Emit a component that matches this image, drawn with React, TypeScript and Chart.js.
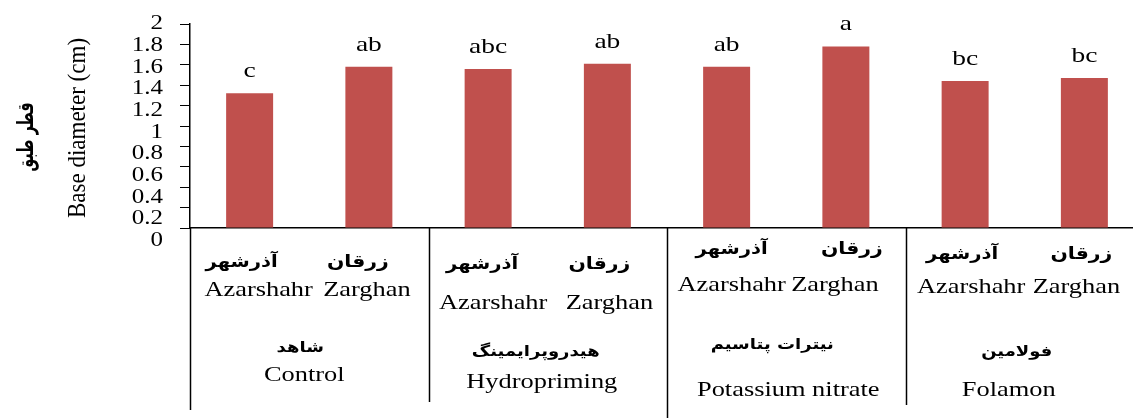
import React, { useEffect, useRef } from 'react';
import { Chart, registerables } from 'chart.js';

Chart.register(...registerables);

// ---- data ----
const cultivarEn = ['Azarshahr', 'Zarghan'];
const cultivarFa = ['آذرشهر', 'زرقان'];
const treatmentEn = ['Control', 'Hydropriming', 'Potassium nitrate', 'Folamon'];
const treatmentFa = ['شاهد', 'هیدروپرایمینگ', 'نیترات پتاسیم', 'فولامین'];
const categories = treatmentEn.flatMap((t) => cultivarEn.map((c) => `${t} - ${c}`));
const values = [1.32, 1.58, 1.56, 1.61, 1.58, 1.78, 1.44, 1.47];
const letters = ['c', 'ab', 'abc', 'ab', 'ab', 'a', 'bc', 'bc'];
const yMin = 0;
const yMax = 2;
const yStep = 0.2;
const titleEn = 'Base diameter (cm)';
const titleFa = 'قطر طبق';

// ---- layout (text placement of the category table) ----
const rowY = [
  [263, 290, 348, 375],
  [265, 303, 352, 382],
  [250, 285, 345, 390],
  [255, 287, 352, 390],
];
const cultDx = [
  [-8, -11, 9, -2],
  [-6, -8, 5, 2],
  [5, 6, 5, -11],
  [-3, -3, 6, -8],
];
const groupDx = [
  [-9, -5],
  [-12, -6],
  [-14, 2],
  [-8, -16],
];
const lineBottoms = [410, 402, 418, 405];

const SERIF = '"Liberation Serif", "Times New Roman", serif';
const FA = '"DejaVu Sans", sans-serif';

function drawText(
  ctx: CanvasRenderingContext2D,
  text: string,
  x: number,
  y: number,
  font: string,
  sx = 1.2,
  align: CanvasTextAlign = 'center',
  baseline: CanvasTextBaseline = 'middle'
) {
  ctx.save();
  ctx.translate(x, y);
  ctx.scale(sx, 1);
  ctx.font = font;
  ctx.fillStyle = '#000';
  ctx.textAlign = align;
  ctx.textBaseline = baseline;
  ctx.fillText(text, 0, 0);
  ctx.restore();
}

const decorPlugin = {
  id: 'decor',
  afterDraw(chart: any) {
    const ctx: CanvasRenderingContext2D = chart.ctx;
    const xs = chart.scales.x;
    const ys = chart.scales.y;
    const area = chart.chartArea;
    const meta = chart.getDatasetMeta(0);

    // y tick labels
    ys.ticks.forEach((t: any) => {
      const v = t.value;
      const py = ys.getPixelForValue(v) + (yMax - v) * 6.3;
      drawText(ctx, String(Math.round(v * 10) / 10), 163, py, `20px ${SERIF}`, 1.25, 'right');
    });

    // letters above bars
    meta.data.forEach((bar: any, i: number) => {
      drawText(ctx, letters[i], bar.x, bar.y - 16, `22px ${SERIF}`, 1.25, 'center', 'alphabetic');
    });

    // axis titles
    ctx.save();
    ctx.translate(78, 128);
    ctx.rotate(-Math.PI / 2);
    ctx.scale(1, 1.12);
    ctx.font = `23px ${SERIF}`;
    ctx.fillStyle = '#000';
    ctx.textAlign = 'center';
    ctx.textBaseline = 'middle';
    ctx.fillText(titleEn, 0, 0);
    ctx.restore();

    ctx.save();
    ctx.translate(27, 137);
    ctx.rotate(-Math.PI / 2);
    ctx.scale(0.95, 1.5);
    ctx.font = `bold 15px ${FA}`;
    ctx.fillStyle = '#000';
    ctx.textAlign = 'center';
    ctx.textBaseline = 'middle';
    ctx.fillText(titleFa, 0, 0);
    ctx.restore();

    // table lines
    ctx.save();
    ctx.strokeStyle = '#000';
    ctx.lineWidth = 1.5;
    const bounds: number[] = [area.left];
    for (let g = 1; g < treatmentEn.length; g++) {
      const i = g * 2;
      bounds.push((xs.getPixelForValue(i - 1) + xs.getPixelForValue(i)) / 2);
    }
    bounds.forEach((bx, k) => {
      ctx.beginPath();
      ctx.moveTo(Math.round(bx) + 0.5, area.bottom);
      ctx.lineTo(Math.round(bx) + 0.5, lineBottoms[k]);
      ctx.stroke();
    });
    ctx.restore();

    // table text
    treatmentEn.forEach((tEn, g) => {
      const c0 = xs.getPixelForValue(g * 2);
      const c1 = xs.getPixelForValue(g * 2 + 1);
      const gc = (c0 + c1) / 2;
      const [yFa, yEn, yGFa, yGEn] = rowY[g];
      const d = cultDx[g];
      drawText(ctx, cultivarFa[0], c0 + d[0], yFa, `bold 17px ${FA}`, 1.15);
      drawText(ctx, cultivarFa[1], c1 + d[1], yFa, `bold 17px ${FA}`, 1.2);
      drawText(ctx, cultivarEn[0], c0 + d[2], yEn, `22px ${SERIF}`, 1.2);
      drawText(ctx, cultivarEn[1], c1 + d[3], yEn, `22px ${SERIF}`, 1.2);
      drawText(ctx, treatmentFa[g], gc + groupDx[g][0], yGFa, `bold 15px ${FA}`, 1.2);
      drawText(ctx, tEn, gc + groupDx[g][1], yGEn, `22px ${SERIF}`, 1.2);
    });
  },
};

export default function App() {
  const ref = useRef<HTMLCanvasElement | null>(null);

  useEffect(() => {
    if (!ref.current) return;
    const chart = new Chart(ref.current, {
      type: 'bar',
      data: {
        labels: categories,
        datasets: [
          {
            data: values,
            backgroundColor: '#C0504D',
            borderWidth: 0,
            barPercentage: 0.394,
            categoryPercentage: 1,
          },
        ],
      },
      options: {
        responsive: false,
        animation: false,
        events: [],
        layout: { padding: { left: 0, top: 24, right: 0, bottom: 190 } },
        plugins: {
          legend: { display: false },
          tooltip: { enabled: false },
          title: { display: false },
        },
        scales: {
          x: {
            display: true,
            offset: true,
            grid: { display: false, drawTicks: false },
            ticks: { display: false },
            border: { display: true, color: '#000', width: 1.5 },
          },
          y: {
            min: yMin,
            max: yMax,
            ticks: { display: false, stepSize: yStep },
            grid: {
              drawOnChartArea: false,
              drawTicks: true,
              tickLength: 10,
              color: '#000',
              tickColor: '#000',
            },
            border: { display: true, color: '#000', width: 1.5 },
            afterFit: (scale: any) => {
              scale.width = 190;
            },
          },
        },
      },
      plugins: [decorPlugin],
    });
    return () => chart.destroy();
  }, []);

  return (
    <div
      style={{
        position: 'fixed',
        left: 0,
        top: 0,
        width: 1133,
        height: 418,
        overflow: 'hidden',
        background: '#fff',
      }}
    >
      <canvas ref={ref} width={1144} height={418} style={{ display: 'block', width: 1144, height: 418 }} />
    </div>
  );
}
